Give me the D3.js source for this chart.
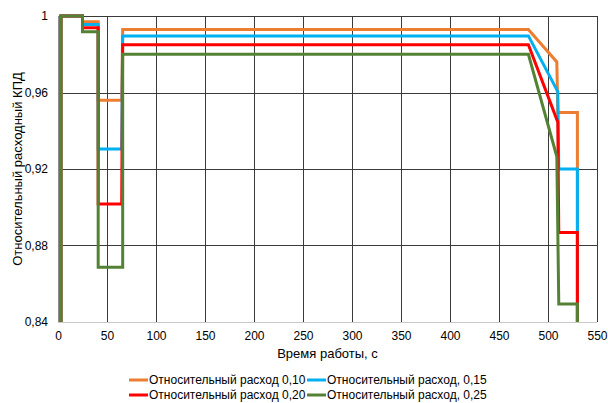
<!DOCTYPE html>
<html>
<head>
<meta charset="utf-8">
<script src="https://cdn.jsdelivr.net/npm/d3@7"></script>
<style>
  body { margin: 0; background: #fff; }
  text { font-family: "Liberation Sans", Arial, sans-serif; fill: #000; }
</style>
</head>
<body>
<div id="chart"></div>
<script>
"use strict";

// Series data: [time (s), relative efficiency]
var seriesNames = [
    "Относительный расход 0,10",
    "Относительный расход, 0,15",
    "Относительный расход 0,20",
    "Относительный расход, 0,25"
];
var seriesColors = ["#ED7D31", "#00B0F0", "#FF0000", "#548235"];

var flow010 = [[3, 0.83], [3, 1], [25, 1], [25, 0.997], [41, 0.997], [41, 0.956], [65, 0.956], [66, 0.993], [480, 0.993], [509, 0.976], [510, 0.9495], [530, 0.9495], [530, 0.83]];
var flow015 = [[3, 0.83], [3, 1], [25, 1], [25, 0.9955], [41, 0.9955], [41, 0.9304], [65, 0.9304], [66, 0.9896], [480, 0.9896], [510, 0.9605], [511, 0.92], [530, 0.92], [530, 0.83]];
var flow020 = [[3, 0.83], [3, 1], [25, 1], [25, 0.9939], [41, 0.9939], [41, 0.9017], [65, 0.9017], [66, 0.985], [480, 0.985], [510, 0.9445], [511, 0.8868], [530, 0.8868], [530, 0.83]];
var flow025 = [[3, 0.83], [3, 1], [25, 1], [25, 0.9918], [41, 0.9918], [41, 0.8686], [66, 0.8686], [66, 0.980], [480, 0.980], [509, 0.9265], [511, 0.8494], [530, 0.8494], [530, 0.83]];
var allSeries = [flow010, flow015, flow020, flow025];

var xTicks = [0, 50, 100, 150, 200, 250, 300, 350, 400, 450, 500, 550];
var yTicks = [0.84, 0.88, 0.92, 0.96, 1];

// Layout
var W = 608, H = 403;
var margin = { top: 16, right: 11, bottom: 81, left: 58 };
var width = W - margin.left - margin.right;
var height = H - margin.top - margin.bottom;

var svg = d3.select("#chart").append("svg")
    .attr("width", W)
    .attr("height", H);

var xScale = d3.scaleLinear().domain([0, 550]).range([0, width]);
var yScale = d3.scaleLinear().domain([0.84, 1]).range([height, 0]);

var g = svg.append("g")
    .attr("transform", "translate(" + margin.left + "," + margin.top + ")");

var fmt = function (d) { return d === 1 ? "1" : d3.format(".2f")(d).replace(".", ","); };

// Gridlines
g.append("g")
    .selectAll("line")
    .data(yTicks.filter(function (d) { return d > 0.84; }))
    .enter().append("line")
    .attr("x1", 0).attr("x2", width)
    .attr("y1", function (d) { return Math.round(yScale(d)) + 0.5; })
    .attr("y2", function (d) { return Math.round(yScale(d)) + 0.5; })
    .attr("stroke", "#3a3a3a").attr("stroke-width", 1);

g.append("g")
    .selectAll("line")
    .data(xTicks)
    .enter().append("line")
    .attr("y1", 0).attr("y2", height)
    .attr("x1", function (d) { return Math.round(xScale(d)) + 0.5; })
    .attr("x2", function (d) { return Math.round(xScale(d)) + 0.5; })
    .attr("stroke", function (d) { return d === 0 ? "#8c8c8c" : "#3a3a3a"; })
    .attr("stroke-width", 1);

// Bottom axis line
g.append("line")
    .attr("x1", 0).attr("x2", width)
    .attr("y1", height + 0.5).attr("y2", height + 0.5)
    .attr("stroke", "#c8c8c8").attr("stroke-width", 1);

// Axes (labels only)
var xAxis = d3.axisBottom(xScale).tickValues(xTicks).tickSize(0).tickPadding(9);
var yAxis = d3.axisLeft(yScale).tickValues(yTicks).tickFormat(fmt).tickSize(0).tickPadding(10);

var xg = g.append("g")
    .attr("transform", "translate(0," + height + ")")
    .call(xAxis);
var yg = g.append("g").call(yAxis);

[xg, yg].forEach(function (a) {
    a.select(".domain").remove();
    a.selectAll("text")
        .style("font-family", "'Liberation Sans', Arial, sans-serif")
        .style("font-size", "12px")
        .attr("fill", "#000");
});

// Lines
var clip = svg.append("defs").append("clipPath").attr("id", "plotClip")
    .append("rect")
    .attr("x", -2).attr("y", -2)
    .attr("width", width + 4).attr("height", height + 2);

var line = d3.line()
    .x(function (d) { return xScale(d[0]); })
    .y(function (d) { return yScale(d[1]); });

g.append("g")
    .attr("clip-path", "url(#plotClip)")
    .selectAll("path")
    .data(allSeries)
    .enter().append("path")
    .attr("d", line)
    .attr("fill", "none")
    .attr("stroke", function (d, i) { return seriesColors[i]; })
    .attr("stroke-width", 3)
    .attr("stroke-linejoin", "miter");

// Axis titles
svg.append("text")
    .attr("x", margin.left + width / 2)
    .attr("y", 358)
    .attr("text-anchor", "middle")
    .style("font-size", "13px")
    .text("Время работы, с");

svg.append("text")
    .attr("transform", "translate(22," + (margin.top + height / 2) + ")rotate(-90)")
    .attr("text-anchor", "middle")
    .style("font-size", "13px")
    .text("Относительный расходный КПД");

// Legend
var legendPos = [[129, 380], [307, 380], [129, 395], [307, 395]];
var legend = svg.append("g")
    .selectAll("g")
    .data(seriesNames)
    .enter().append("g")
    .attr("transform", function (d, i) { return "translate(" + legendPos[i][0] + "," + legendPos[i][1] + ")"; });

legend.append("line")
    .attr("x1", 0).attr("x2", 19)
    .attr("y1", 0).attr("y2", 0)
    .attr("stroke", function (d, i) { return seriesColors[i]; })
    .attr("stroke-width", 3);

legend.append("text")
    .attr("x", 20)
    .attr("y", 4)
    .style("font-size", "12px")
    .text(function (d) { return d; });
</script>
</body>
</html>
